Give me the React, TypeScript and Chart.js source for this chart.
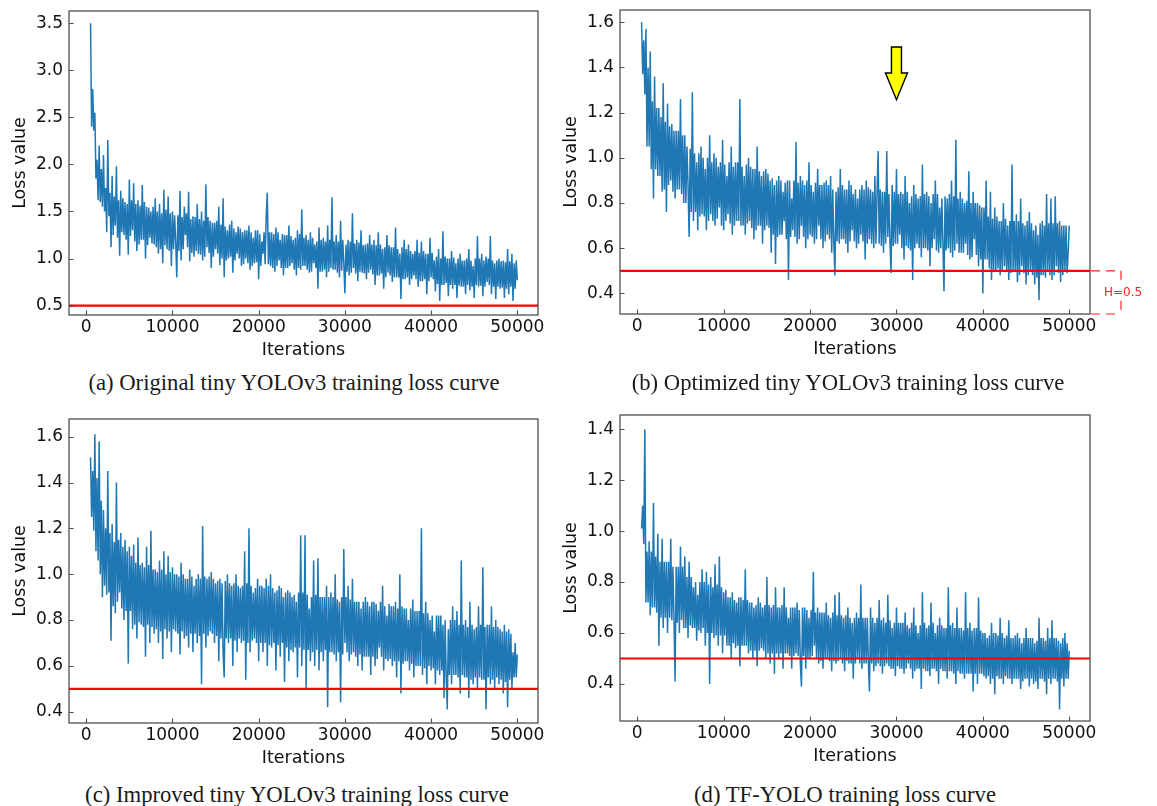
import React, { useEffect, useRef } from 'react';
import { Chart, registerables } from 'chart.js';

Chart.register(...registerables);

// Iterations: first logged iteration and logging interval
const ITER_START = 500;
const ITER_STEP = 125;
const X_TICKS = [0, 10000, 20000, 30000, 40000, 50000];
const X_MIN = -2000;
const X_MAX = 52400;
const THRESHOLD = 0.5;

// (a) Original tiny YOLOv3
const LOSS_A = [
  3.50, 2.40, 2.80, 2.36, 2.55, 1.85, 2.05, 1.62, 2.20, 1.60, 1.95, 1.55, 2.10, 1.50, 1.75, 1.28, 2.26, 1.45, 1.70, 1.12,
  1.88, 1.25, 1.66, 1.35, 1.98, 1.22, 1.62, 1.03, 1.72, 1.28, 1.64, 1.25, 1.60, 1.20, 1.58, 1.04, 1.84, 1.24, 1.62, 1.30,
  1.80, 1.18, 1.58, 1.08, 1.62, 1.15, 1.56, 1.20, 1.78, 1.20, 1.60, 1.00, 1.55, 1.14, 1.54, 1.22, 1.50, 1.16, 1.55, 1.15,
  1.64, 1.12, 1.50, 1.05, 1.58, 1.10, 1.48, 0.95, 1.73, 1.14, 1.52, 1.10, 1.66, 1.08, 1.48, 0.92, 1.50, 1.10, 1.46, 1.18,
  0.80, 1.46, 1.08, 1.72, 0.98, 1.44, 1.10, 1.55, 1.25, 1.48, 1.12, 1.71, 0.97, 1.42, 1.06, 1.45, 1.02, 1.44, 1.08, 1.58,
  1.05, 1.42, 1.04, 1.50, 0.98, 1.40, 1.02, 1.79, 1.12, 1.44, 1.06, 1.40, 0.90, 1.38, 1.02, 1.38, 1.10, 1.40, 1.05, 1.55,
  0.93, 1.36, 1.00, 1.64, 0.80, 1.34, 0.98, 1.30, 1.00, 1.36, 1.02, 1.40, 0.85, 1.32, 0.98, 1.28, 1.05, 1.34, 1.00, 1.32,
  0.92, 1.28, 0.94, 1.30, 1.00, 1.30, 0.95, 1.35, 0.88, 1.28, 0.92, 1.22, 0.95, 1.30, 0.96, 1.30, 0.78, 1.26, 0.92, 1.18,
  1.05, 1.28, 0.94, 1.45, 1.70, 0.94, 1.28, 0.92, 1.28, 0.90, 1.26, 0.86, 1.33, 0.92, 1.28, 0.98, 1.20, 0.90, 1.26, 0.82,
  1.25, 0.90, 1.25, 0.90, 1.35, 0.92, 1.24, 0.95, 1.20, 0.88, 1.22, 0.82, 1.30, 0.90, 1.26, 0.88, 1.52, 0.92, 1.22, 0.92,
  1.25, 0.88, 1.20, 0.85, 1.28, 0.86, 1.22, 0.95, 1.15, 0.90, 1.18, 0.68, 1.33, 0.86, 1.20, 0.86, 1.22, 0.88, 1.18, 0.80,
  1.35, 0.86, 1.20, 0.90, 1.65, 0.88, 1.18, 0.88, 1.25, 0.85, 1.18, 0.80, 1.40, 0.87, 1.20, 0.95, 0.63, 1.15, 0.86, 1.20,
  0.82, 1.18, 0.85, 1.48, 0.90, 1.16, 0.84, 1.20, 0.76, 1.17, 0.86, 1.30, 0.85, 1.14, 0.84, 1.15, 0.78, 1.16, 0.85, 1.25,
  0.88, 1.15, 0.83, 1.20, 0.72, 1.14, 0.82, 1.28, 0.82, 1.15, 0.84, 1.10, 0.68, 1.12, 0.80, 1.25, 0.85, 1.14, 0.82, 1.12,
  0.75, 1.12, 0.80, 1.33, 0.80, 1.10, 0.80, 1.05, 0.57, 1.12, 0.78, 1.20, 0.78, 1.10, 0.80, 1.15, 0.72, 1.08, 0.78, 1.05,
  0.82, 1.08, 0.78, 1.20, 0.70, 1.06, 0.76, 1.18, 0.76, 1.08, 0.78, 1.05, 0.62, 1.05, 0.76, 1.22, 0.80, 1.06, 0.78, 0.98,
  0.65, 1.02, 0.73, 1.10, 0.55, 1.00, 0.72, 1.29, 0.72, 1.02, 0.74, 1.00, 0.60, 1.00, 0.72, 1.08, 0.68, 1.01, 0.72, 0.95,
  0.58, 1.00, 0.71, 1.05, 0.70, 0.98, 0.70, 0.98, 0.62, 1.00, 0.72, 1.10, 0.66, 0.98, 0.70, 0.92, 0.58, 1.00, 0.72, 1.24,
  0.70, 1.00, 0.71, 1.05, 0.60, 0.98, 0.70, 1.02, 0.75, 1.00, 0.72, 1.24, 0.62, 0.98, 0.70, 0.95, 0.57, 0.98, 0.70, 1.00,
  0.68, 0.97, 0.69, 0.98, 0.58, 0.96, 0.68, 1.10, 0.62, 0.97, 0.70, 1.05, 0.55, 0.95, 0.68, 0.98, 0.77,
];

// (b) Optimized tiny YOLOv3
const LOSS_B = [
  1.60, 1.37, 1.52, 1.28, 1.57, 1.05, 1.40, 1.05, 1.47, 0.95, 1.25, 0.82, 1.36, 0.95, 1.22, 0.92, 1.22, 0.92, 1.18, 0.85,
  1.33, 0.86, 1.16, 0.76, 1.24, 0.88, 1.14, 0.90, 1.15, 0.85, 1.12, 0.82, 1.12, 0.86, 1.12, 0.86, 1.26, 0.84, 1.10, 0.80,
  1.10, 0.80, 1.05, 0.88, 0.65, 1.04, 0.76, 1.29, 0.72, 1.02, 0.76, 0.98, 0.68, 1.02, 0.74, 1.05, 0.75, 1.00, 0.74, 0.95,
  0.68, 1.00, 0.72, 1.10, 0.75, 0.98, 0.72, 1.02, 0.70, 1.00, 0.73, 0.96, 0.78, 0.98, 0.70, 1.08, 0.68, 0.97, 0.72, 0.92,
  0.75, 0.98, 0.71, 1.05, 0.66, 0.96, 0.70, 0.98, 0.72, 0.98, 0.72, 1.26, 0.70, 0.96, 0.70, 0.92, 0.66, 0.97, 0.71, 1.00,
  0.72, 0.96, 0.69, 0.95, 0.64, 0.95, 0.68, 1.05, 0.70, 0.94, 0.70, 0.92, 0.62, 0.94, 0.68, 0.95, 0.70, 0.93, 0.69, 0.90,
  0.58, 0.91, 0.66, 0.88, 0.53, 0.90, 0.65, 0.92, 0.66, 0.90, 0.66, 0.85, 0.72, 0.89, 0.64, 0.90, 0.46, 0.90, 0.65, 0.82,
  0.68, 0.90, 0.65, 1.07, 0.62, 0.89, 0.64, 0.92, 0.70, 0.90, 0.65, 0.88, 0.60, 0.90, 0.64, 0.98, 0.66, 0.88, 0.65, 0.85,
  0.62, 0.89, 0.64, 0.95, 0.70, 0.88, 0.64, 0.88, 0.60, 0.89, 0.63, 0.90, 0.66, 0.88, 0.64, 0.92, 0.58, 0.86, 0.62, 0.48,
  0.85, 0.63, 0.87, 0.62, 0.95, 0.64, 0.88, 0.64, 0.86, 0.62, 0.86, 0.58, 0.90, 0.63, 0.88, 0.68, 0.84, 0.63, 0.86, 0.60,
  0.82, 0.62, 0.86, 0.66, 0.88, 0.63, 0.86, 0.55, 0.90, 0.62, 0.87, 0.64, 0.86, 0.62, 0.85, 0.60, 0.92, 0.62, 0.84, 1.03,
  0.62, 0.86, 0.61, 0.85, 0.58, 0.85, 0.62, 1.03, 0.65, 0.84, 0.62, 0.49, 0.88, 0.61, 0.85, 0.62, 0.95, 0.62, 0.84, 0.66,
  0.85, 0.60, 0.84, 0.55, 0.92, 0.61, 0.85, 0.60, 0.80, 0.59, 0.83, 0.46, 0.88, 0.60, 0.84, 0.62, 0.82, 0.60, 0.83, 0.56,
  0.97, 0.60, 0.84, 0.60, 0.85, 0.59, 0.83, 0.52, 0.80, 0.60, 0.84, 0.64, 0.90, 0.59, 0.84, 0.58, 0.78, 0.60, 0.82, 0.62,
  0.41, 0.83, 0.59, 0.82, 0.60, 0.84, 0.58, 0.90, 0.56, 0.83, 0.59, 1.08, 0.62, 0.82, 0.58, 0.85, 0.58, 0.82, 0.58, 0.80,
  0.62, 0.81, 0.57, 0.94, 0.55, 0.80, 0.56, 0.85, 0.64, 0.80, 0.57, 0.80, 0.52, 0.79, 0.55, 0.78, 0.40, 0.78, 0.55, 0.90,
  0.55, 0.74, 0.51, 0.85, 0.46, 0.73, 0.50, 0.78, 0.50, 0.74, 0.51, 0.72, 0.48, 0.72, 0.50, 0.80, 0.52, 0.73, 0.50, 0.70,
  0.46, 0.72, 0.49, 0.97, 0.50, 0.72, 0.50, 0.75, 0.45, 0.72, 0.48, 0.82, 0.52, 0.71, 0.49, 0.70, 0.44, 0.72, 0.48, 0.76,
  0.50, 0.71, 0.48, 0.68, 0.44, 0.70, 0.47, 0.66, 0.37, 0.71, 0.48, 0.72, 0.48, 0.70, 0.47, 0.84, 0.50, 0.71, 0.48, 0.82,
  0.46, 0.71, 0.48, 0.83, 0.52, 0.71, 0.49, 0.72, 0.45, 0.70, 0.48, 0.70, 0.50, 0.70, 0.49, 0.58, 0.70,
];

// (c) Improved tiny YOLOv3
const LOSS_C = [
  1.51, 1.25, 1.45, 1.19, 1.61, 1.10, 1.42, 1.06, 1.58, 1.00, 1.32, 0.90, 1.28, 0.95, 1.20, 0.91, 1.45, 0.92, 1.18, 0.71,
  1.22, 0.86, 1.14, 0.83, 1.40, 0.88, 1.15, 0.92, 1.18, 0.85, 1.12, 0.80, 1.15, 0.84, 1.10, 0.61, 1.12, 0.84, 1.08, 0.76,
  1.13, 0.78, 1.05, 0.72, 1.16, 0.79, 1.04, 0.78, 1.05, 0.77, 1.03, 0.64, 1.12, 0.78, 1.04, 0.70, 1.19, 0.77, 1.02, 0.74,
  1.02, 0.76, 1.01, 0.70, 1.06, 0.75, 1.02, 0.63, 1.10, 0.76, 1.00, 0.72, 1.08, 0.75, 1.01, 0.66, 1.03, 0.76, 1.00, 0.75,
  1.00, 0.74, 0.99, 0.65, 1.05, 0.75, 1.00, 0.72, 0.98, 0.73, 0.98, 0.68, 1.02, 0.74, 0.99, 0.66, 0.95, 0.74, 0.98, 0.70,
  1.00, 0.73, 0.98, 0.52, 1.21, 0.74, 0.99, 0.68, 0.98, 0.73, 0.99, 0.75, 1.01, 0.74, 0.98, 0.70, 0.96, 0.73, 0.97, 0.62,
  0.98, 0.72, 0.96, 0.66, 0.55, 0.97, 0.72, 1.00, 0.70, 0.96, 0.72, 0.95, 0.60, 0.96, 0.71, 1.00, 0.66, 0.95, 0.72, 0.94,
  0.70, 0.95, 0.71, 1.10, 0.54, 0.96, 0.70, 1.20, 0.66, 0.95, 0.71, 0.92, 0.72, 0.94, 0.70, 0.98, 0.62, 0.95, 0.70, 0.95,
  0.66, 0.94, 0.70, 0.98, 0.60, 0.95, 0.69, 1.00, 0.68, 0.94, 0.70, 0.92, 0.58, 0.93, 0.69, 0.95, 0.64, 0.94, 0.70, 0.90,
  0.53, 0.92, 0.68, 0.93, 0.62, 0.92, 0.67, 0.90, 0.66, 0.91, 0.68, 0.88, 0.55, 0.92, 0.68, 1.17, 0.60, 0.92, 0.67, 1.17,
  0.50, 0.91, 0.67, 0.85, 0.62, 0.90, 0.66, 1.06, 0.60, 0.91, 0.67, 1.07, 0.58, 0.90, 0.66, 0.90, 0.62, 0.90, 0.67, 0.95,
  0.42, 0.90, 0.66, 0.92, 0.66, 0.90, 0.65, 1.00, 0.62, 0.89, 0.66, 0.88, 0.44, 0.90, 0.65, 1.11, 0.70, 0.90, 0.66, 0.95,
  0.62, 0.89, 0.65, 0.98, 0.66, 0.88, 0.64, 0.88, 0.60, 0.88, 0.65, 0.85, 0.58, 0.88, 0.64, 0.90, 0.64, 0.88, 0.64, 0.86,
  0.56, 0.88, 0.64, 0.88, 0.60, 0.87, 0.63, 0.84, 0.68, 0.88, 0.64, 0.95, 0.58, 0.86, 0.63, 0.82, 0.62, 0.87, 0.63, 0.86,
  0.60, 0.86, 0.62, 0.88, 0.55, 0.85, 0.62, 1.00, 0.48, 0.86, 0.61, 0.85, 0.62, 0.85, 0.62, 0.80, 0.58, 0.85, 0.61, 0.89,
  0.55, 0.84, 0.60, 0.84, 0.60, 0.84, 0.60, 1.20, 0.56, 0.83, 0.59, 0.88, 0.52, 0.83, 0.60, 0.80, 0.58, 0.82, 0.59, 0.75,
  0.52, 0.82, 0.58, 0.82, 0.56, 0.82, 0.58, 0.78, 0.46, 0.80, 0.56, 0.41, 0.76, 0.56, 0.80, 0.52, 0.86, 0.56, 0.80, 0.56,
  0.84, 0.55, 0.78, 0.48, 1.06, 0.56, 0.78, 0.55, 0.80, 0.55, 0.77, 0.46, 0.88, 0.54, 0.78, 0.52, 0.76, 0.55, 0.77, 0.50,
  0.86, 0.55, 0.78, 0.54, 1.03, 0.54, 0.77, 0.41, 0.78, 0.55, 0.78, 0.52, 0.86, 0.54, 0.77, 0.50, 0.80, 0.55, 0.77, 0.52,
  0.76, 0.54, 0.75, 0.48, 0.78, 0.53, 0.75, 0.42, 0.76, 0.54, 0.74, 0.50, 0.66, 0.55, 0.70, 0.55, 0.65,
];

// (d) TF-YOLO
const LOSS_D = [
  1.01, 1.10, 0.95, 1.40, 0.72, 0.92, 0.72, 0.96, 0.67, 0.92, 0.70, 1.11, 0.70, 0.90, 0.68, 0.99, 0.55, 0.88, 0.66, 0.97,
  0.62, 0.88, 0.66, 0.88, 0.60, 0.88, 0.66, 0.97, 0.65, 0.86, 0.65, 0.41, 0.86, 0.64, 0.86, 0.60, 0.94, 0.65, 0.86, 0.62,
  0.90, 0.62, 0.82, 0.58, 0.88, 0.63, 0.82, 0.62, 0.78, 0.62, 0.80, 0.57, 0.75, 0.61, 0.80, 0.60, 0.85, 0.62, 0.80, 0.55,
  0.84, 0.60, 0.79, 0.40, 0.82, 0.60, 0.78, 0.58, 0.87, 0.59, 0.79, 0.55, 0.90, 0.59, 0.78, 0.52, 0.76, 0.59, 0.77, 0.55,
  0.74, 0.55, 0.74, 0.50, 0.76, 0.56, 0.73, 0.54, 0.72, 0.55, 0.74, 0.47, 0.74, 0.55, 0.73, 0.55, 0.85, 0.55, 0.73, 0.52,
  0.72, 0.53, 0.72, 0.50, 0.70, 0.53, 0.71, 0.47, 0.74, 0.53, 0.72, 0.54, 0.70, 0.53, 0.71, 0.50, 0.82, 0.52, 0.71, 0.48,
  0.70, 0.52, 0.71, 0.44, 0.78, 0.52, 0.70, 0.50, 0.70, 0.52, 0.71, 0.46, 0.78, 0.52, 0.70, 0.52, 0.66, 0.51, 0.70, 0.46,
  0.70, 0.51, 0.70, 0.52, 0.72, 0.51, 0.69, 0.48, 0.39, 0.70, 0.51, 0.70, 0.46, 0.69, 0.50, 0.66, 0.50, 0.69, 0.51, 0.84,
  0.55, 0.68, 0.50, 0.70, 0.48, 0.68, 0.49, 0.68, 0.46, 0.68, 0.50, 0.72, 0.50, 0.67, 0.49, 0.66, 0.45, 0.68, 0.49, 0.75,
  0.48, 0.67, 0.49, 0.76, 0.50, 0.67, 0.48, 0.66, 0.45, 0.67, 0.49, 0.70, 0.48, 0.66, 0.48, 0.64, 0.42, 0.66, 0.48, 0.68,
  0.50, 0.66, 0.48, 0.79, 0.46, 0.66, 0.48, 0.66, 0.48, 0.66, 0.48, 0.37, 0.70, 0.48, 0.66, 0.45, 0.64, 0.47, 0.66, 0.48,
  0.73, 0.47, 0.65, 0.44, 0.66, 0.47, 0.64, 0.48, 0.75, 0.47, 0.65, 0.46, 0.62, 0.46, 0.64, 0.43, 0.70, 0.47, 0.64, 0.46,
  0.64, 0.46, 0.64, 0.44, 0.68, 0.46, 0.63, 0.48, 0.62, 0.46, 0.64, 0.42, 0.70, 0.45, 0.63, 0.46, 0.60, 0.46, 0.63, 0.38,
  0.76, 0.46, 0.64, 0.45, 0.62, 0.45, 0.63, 0.43, 0.72, 0.46, 0.64, 0.46, 0.60, 0.45, 0.63, 0.40, 0.66, 0.46, 0.63, 0.45,
  0.62, 0.45, 0.62, 0.42, 0.78, 0.45, 0.63, 0.45, 0.64, 0.44, 0.62, 0.40, 0.70, 0.45, 0.62, 0.44, 0.62, 0.44, 0.61, 0.42,
  0.76, 0.44, 0.62, 0.44, 0.64, 0.44, 0.61, 0.37, 0.62, 0.44, 0.62, 0.40, 0.74, 0.44, 0.61, 0.44, 0.60, 0.43, 0.60, 0.42,
  0.58, 0.43, 0.59, 0.40, 0.64, 0.42, 0.60, 0.36, 0.60, 0.43, 0.59, 0.42, 0.66, 0.42, 0.60, 0.40, 0.58, 0.43, 0.59, 0.42,
  0.65, 0.42, 0.58, 0.40, 0.58, 0.42, 0.59, 0.42, 0.60, 0.42, 0.58, 0.38, 0.56, 0.41, 0.58, 0.42, 0.62, 0.42, 0.58, 0.39,
  0.58, 0.42, 0.58, 0.40, 0.56, 0.41, 0.57, 0.38, 0.66, 0.42, 0.58, 0.42, 0.58, 0.41, 0.57, 0.36, 0.62, 0.42, 0.58, 0.40,
  0.65, 0.42, 0.58, 0.42, 0.58, 0.41, 0.57, 0.30, 0.56, 0.42, 0.58, 0.39, 0.60, 0.42, 0.56, 0.42, 0.53,
];

const Y_TICKS_A = [0.5, 1.0, 1.5, 2.0, 2.5, 3.0, 3.5];
const Y_TICKS_B = [0.4, 0.6, 0.8, 1.0, 1.2, 1.4, 1.6];
const Y_TICKS_C = [0.4, 0.6, 0.8, 1.0, 1.2, 1.4, 1.6];
const Y_TICKS_D = [0.4, 0.6, 0.8, 1.0, 1.2, 1.4];

const CAPTIONS = [
  '(a) Original tiny YOLOv3 training loss curve',
  '(b) Optimized tiny YOLOv3 training loss curve',
  '(c) Improved tiny YOLOv3 training loss curve',
  '(d) TF-YOLO training loss curve',
];

// annotation anchors for panel (b)
const ARROW_X = 30000;
const ARROW_TOP = 1.49;
const ARROW_HEAD = 1.375;
const ARROW_TIP = 1.257;
const H_LABEL = 'H=0.5';

const SANS = "'DejaVu Sans', sans-serif";
const LINE_BLUE = '#1f77b4';

const framePlugin = {
  id: 'mplFrame',
  afterDatasetsDraw(chart: any) {
    const { ctx, chartArea: a, scales } = chart;
    const xs = scales.x;
    const ys = scales.y;
    ctx.save();
    // threshold line
    const yT = ys.getPixelForValue(THRESHOLD);
    ctx.strokeStyle = '#ff0000';
    ctx.lineWidth = 2.2;
    ctx.beginPath();
    ctx.moveTo(a.left, yT);
    ctx.lineTo(a.right, yT);
    ctx.stroke();
    // frame
    ctx.strokeStyle = '#505050';
    ctx.lineWidth = 1.3;
    ctx.strokeRect(a.left, a.top, a.right - a.left, a.bottom - a.top);
    // inward ticks
    ctx.lineWidth = 1.1;
    ctx.beginPath();
    xs.ticks.forEach((t: any) => {
      const px = Math.round(xs.getPixelForValue(t.value)) + 0.5;
      ctx.moveTo(px, a.bottom);
      ctx.lineTo(px, a.bottom - 4.5);
    });
    ys.ticks.forEach((t: any) => {
      const py = Math.round(ys.getPixelForValue(t.value)) + 0.5;
      ctx.moveTo(a.left, py);
      ctx.lineTo(a.left + 4.5, py);
    });
    ctx.stroke();
    ctx.restore();
  },
};

const annotationPlugin = {
  id: 'annotB',
  afterDraw(chart: any) {
    const { ctx, chartArea: a, scales } = chart;
    const xs = scales.x;
    const ys = scales.y;
    ctx.save();
    // yellow arrow
    const cx = xs.getPixelForValue(ARROW_X);
    const yTop = ys.getPixelForValue(ARROW_TOP);
    const yHead = ys.getPixelForValue(ARROW_HEAD);
    const yTip = ys.getPixelForValue(ARROW_TIP);
    ctx.beginPath();
    ctx.moveTo(cx - 5, yTop);
    ctx.lineTo(cx + 5, yTop);
    ctx.lineTo(cx + 5, yHead);
    ctx.lineTo(cx + 11, yHead);
    ctx.lineTo(cx, yTip);
    ctx.lineTo(cx - 11, yHead);
    ctx.lineTo(cx - 5, yHead);
    ctx.closePath();
    ctx.fillStyle = '#ffff00';
    ctx.fill();
    ctx.strokeStyle = '#000';
    ctx.lineWidth = 1.4;
    ctx.lineJoin = 'miter';
    ctx.stroke();
    // dashed bracket H=0.5
    const y05 = ys.getPixelForValue(THRESHOLD);
    const xb = a.right + 31;
    ctx.strokeStyle = '#ff2020';
    ctx.lineWidth = 1.2;
    ctx.setLineDash([9, 6]);
    ctx.beginPath();
    ctx.moveTo(a.right + 1, y05);
    ctx.lineTo(xb, y05);
    ctx.lineTo(xb, a.bottom);
    ctx.moveTo(a.right + 1, a.bottom);
    ctx.lineTo(xb, a.bottom);
    ctx.stroke();
    ctx.setLineDash([]);
    const ym = (y05 + a.bottom) / 2;
    ctx.font = `12px ${SANS}`;
    const tw = ctx.measureText(H_LABEL).width;
    ctx.fillStyle = '#fff';
    ctx.fillRect(xb + 2 - tw / 2 - 1, ym - 8, tw + 2, 16);
    ctx.fillStyle = '#ff2020';
    ctx.textAlign = 'center';
    ctx.textBaseline = 'middle';
    ctx.fillText(H_LABEL, xb + 2, ym);
    ctx.restore();
  },
};

type Box = { x: number; y: number; w: number; h: number };
type Pad = { left: number; top: number; right: number; bottom: number };

function LossChart(props: {
  values: number[];
  yTicks: number[];
  yMin: number;
  yMax: number;
  box: Box;
  pad: Pad;
  extra?: any[];
}) {
  const ref = useRef<HTMLCanvasElement>(null);
  const { values, yTicks, yMin, yMax, box, pad, extra } = props;
  useEffect(() => {
    if (!ref.current) return;
    const points = values.map((v, i) => ({ x: ITER_START + i * ITER_STEP, y: v }));
    const chart = new Chart(ref.current, {
      type: 'line',
      data: {
        datasets: [
          {
            data: points,
            borderColor: LINE_BLUE,
            borderWidth: 1.5,
            pointRadius: 0,
            tension: 0,
            fill: false,
          },
        ],
      },
      options: {
        animation: false,
        responsive: false,
        maintainAspectRatio: false,
        events: [],
        layout: { padding: pad },
        plugins: { legend: { display: false }, tooltip: { enabled: false } },
        scales: {
          x: {
            type: 'linear',
            min: X_MIN,
            max: X_MAX,
            grid: { display: false, drawTicks: false },
            border: { display: false },
            afterBuildTicks: (s: any) => {
              s.ticks = X_TICKS.map((v) => ({ value: v }));
            },
            afterFit: (s: any) => {
              s.height = 48;
              s.paddingLeft = 0;
              s.paddingRight = 0;
            },
            ticks: {
              padding: 2,
              color: '#111',
              autoSkip: false,
              maxRotation: 0,
              font: { family: SANS, size: 17 },
              callback: (v: any) => String(v),
            },
            title: {
              display: true,
              text: 'Iterations',
              color: '#111',
              font: { family: SANS, size: 17.5 },
              padding: { top: 0, bottom: 2 },
            },
          },
          y: {
            type: 'linear',
            min: yMin,
            max: yMax,
            grid: { display: false, drawTicks: false },
            border: { display: false },
            afterBuildTicks: (s: any) => {
              s.ticks = yTicks.map((v) => ({ value: v }));
            },
            afterFit: (s: any) => {
              s.width = 69;
              s.paddingTop = 0;
              s.paddingBottom = 0;
            },
            ticks: {
              padding: 6,
              color: '#111',
              autoSkip: false,
              font: { family: SANS, size: 17 },
              callback: (v: any) => Number(v).toFixed(1),
            },
            title: {
              display: true,
              text: 'Loss value',
              color: '#111',
              font: { family: SANS, size: 17.5 },
              padding: { top: 10, bottom: 0 },
            },
          },
        },
      },
      plugins: [framePlugin, ...(extra || [])],
    });
    return () => chart.destroy();
  }, []);
  return (
    <canvas
      ref={ref}
      width={box.w}
      height={box.h}
      style={{ position: 'absolute', left: box.x, top: box.y, width: box.w, height: box.h }}
    />
  );
}

function Caption(props: { text: string; cx: number; cy: number }) {
  return (
    <div
      style={{
        position: 'absolute',
        left: props.cx - 300,
        top: props.cy - 12,
        width: 600,
        textAlign: 'center',
        fontFamily: "'Liberation Serif', 'Times New Roman', serif",
        fontSize: 22.7,
        lineHeight: '24px',
        color: '#1a1a1a',
        whiteSpace: 'nowrap',
      }}
    >
      {props.text}
    </div>
  );
}

export default function App() {
  return (
    <div
      style={{
        position: 'absolute',
        left: 0,
        top: 0,
        width: 1157,
        height: 806,
        background: '#fff',
        overflow: 'hidden',
      }}
    >
      <LossChart
        values={LOSS_A}
        yTicks={Y_TICKS_A}
        yMin={0.4}
        yMax={3.63}
        box={{ x: 0, y: 0, w: 560, h: 363 }}
        pad={{ left: 0, top: 11, right: 22, bottom: 0 }}
      />
      <LossChart
        values={LOSS_B}
        yTicks={Y_TICKS_B}
        yMin={0.309}
        yMax={1.654}
        box={{ x: 551, y: 0, w: 606, h: 362 }}
        pad={{ left: 0, top: 10, right: 67, bottom: 0 }}
        extra={[annotationPlugin]}
      />
      <LossChart
        values={LOSS_C}
        yTicks={Y_TICKS_C}
        yMin={0.351}
        yMax={1.677}
        box={{ x: 0, y: 408, w: 560, h: 363 }}
        pad={{ left: 0, top: 11, right: 22, bottom: 0 }}
      />
      <LossChart
        values={LOSS_D}
        yTicks={Y_TICKS_D}
        yMin={0.2545}
        yMax={1.456}
        box={{ x: 551, y: 405, w: 560, h: 364 }}
        pad={{ left: 0, top: 10, right: 21, bottom: 0 }}
      />
      <Caption text={CAPTIONS[0]} cx={294} cy={383} />
      <Caption text={CAPTIONS[1]} cx={848} cy={383} />
      <Caption text={CAPTIONS[2]} cx={297} cy={795} />
      <Caption text={CAPTIONS[3]} cx={845} cy={795} />
    </div>
  );
}
